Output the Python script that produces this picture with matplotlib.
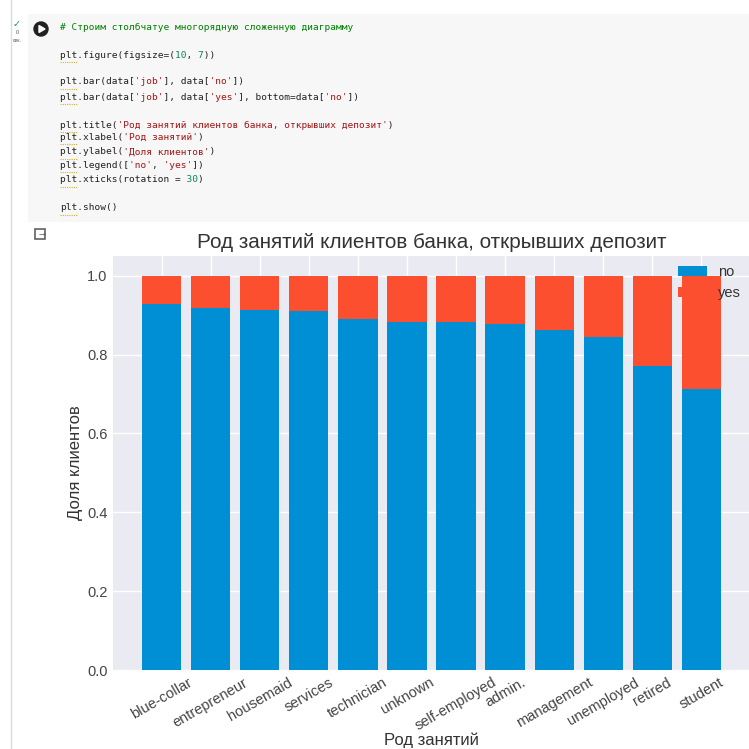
import matplotlib.pyplot as plt
from matplotlib.patches import Rectangle, Circle, Polygon

plt.rcParams['font.family'] = ['Liberation Sans', 'DejaVu Sans']

# доли клиентов по роду занятий
jobs = ['blue-collar', 'entrepreneur', 'housemaid', 'services', 'technician',
        'unknown', 'self-employed', 'admin.', 'management', 'unemployed',
        'retired', 'student']
no_share = [0.927, 0.917, 0.912, 0.911, 0.889, 0.882, 0.882, 0.878, 0.862,
            0.845, 0.772, 0.713]
yes_share = [0.073, 0.083, 0.088, 0.089, 0.111, 0.118, 0.118, 0.122, 0.138,
             0.155, 0.228, 0.287]
y_ticks = [0.0, 0.2, 0.4, 0.6, 0.8, 1.0]

W = H = 749.0

def fx(x):
    return x / W

def fy(y):
    return 1 - y / H

fig = plt.figure(figsize=(7.49, 7.49), dpi=100)
fig.patch.set_facecolor('white')

# --- notebook cell decoration ---
fig.add_artist(plt.Line2D([fx(11), fx(11)], [0, 1], color='#dadce0', lw=1))
fig.add_artist(Rectangle((fx(28), fy(222)), fx(749) - fx(28), fy(14) - fy(222),
                         color='#f7f7f7', lw=0))
fig.add_artist(Circle((fx(41), fy(29)), 7 / W, color='#212121'))
fig.add_artist(Polygon([(fx(39), fy(25.5)), (fx(39), fy(32.5)), (fx(45), fy(29))],
                       color='white'))
fig.text(fx(17), fy(24), '✓', color='#0f9d58', fontsize=7, ha='center', va='center',
         family='DejaVu Sans')
fig.text(fx(17), fy(33), '0', color='#555555', fontsize=4, ha='center', va='center')
fig.text(fx(17), fy(41), 'сек.', color='#555555', fontsize=3.5, ha='center', va='center')
fig.add_artist(Rectangle((fx(35), fy(239)), 10 / W, 10 / H, fill=False,
                         ec='#616161', lw=1.2))
fig.text(fx(42), fy(234), '→', color='#616161', fontsize=6, ha='center', va='center',
         family='DejaVu Sans')

# код в ячейке: (y строки, список (текст, цвет))
K, S, N, C = '#212121', '#a31515', '#098658', '#008000'
code_lines = [
    (27, [('# Строим столбчатуе многорядную сложенную диаграмму', C)]),
    (55, [('plt.figure(figsize=(', K), ('10', N), (', ', K), ('7', N), ('))', K)]),
    (82, [('plt.bar(data[', K), ("'job'", S), ('], data[', K), ("'no'", S), ('])', K)]),
    (97, [('plt.bar(data[', K), ("'job'", S), ('], data[', K), ("'yes'", S),
          ('], bottom=data[', K), ("'no'", S), ('])', K)]),
    (125, [('plt.title(', K), ("'Род занятий клиентов банка, открывших депозит'", S), (')', K)]),
    (137, [('plt.xlabel(', K), ("'Род занятий'", S), (')', K)]),
    (152, [('plt.ylabel(', K), ("'Доля клиентов'", S), (')', K)]),
    (165, [('plt.legend([', K), ("'no'", S), (', ', K), ("'yes'", S), ('])', K)]),
    (180, [('plt.xticks(rotation = ', K), ('30', N), (')', K)]),
    (208, [('plt.show()', K)]),
]
fs_code = 6.8
for y, parts in code_lines:
    # monospace: one layer per colour, other characters blanked with spaces
    for col in (K, S, N, C):
        layer = ''.join(t if c == col else ' ' * len(t) for t, c in parts)
        if layer.strip():
            fig.text(fx(60), fy(y), layer, color=col, fontsize=fs_code,
                     family='DejaVu Sans Mono', ha='left', va='center')
    if parts[0][0].startswith('plt'):
        fig.add_artist(plt.Line2D([fx(60), fx(77)], [fy(y + 6.5), fy(y + 6.5)],
                                  color='#e0b020', lw=0.8, ls=(0, (1, 1))))

# --- the chart ---
ax = fig.add_axes([fx(113), fy(670), fx(750) - fx(113), fy(256) - fy(670)])
ax.set_facecolor('#eaeaf2')
ax.bar(jobs, no_share, color='#008fd5', zorder=2)
ax.bar(jobs, yes_share, bottom=no_share, color='#fc4f30', zorder=2)
ax.grid(True, color='white', lw=1, zorder=0)
ax.set_axisbelow(True)
for s in ax.spines.values():
    s.set_visible(False)
ax.tick_params(length=0, labelsize=10.5, colors='#444444', pad=4)
ax.set_yticks(y_ticks)
ax.set_ylim(0, 1.05)
plt.setp(ax.get_xticklabels(), rotation=30, ha='center')
ax.set_title('Род занятий клиентов банка, открывших депозит', fontsize=14.9,
             color='#333333', pad=6)
ax.set_xlabel('Род занятий', fontsize=12, color='#333333', labelpad=-1)
ax.set_ylabel('Доля клиентов', fontsize=12, color='#333333', labelpad=3)
ax.legend(['no', 'yes'], loc='upper right', frameon=False, fontsize=10.5,
          borderaxespad=0.2, handlelength=2.0, labelcolor='#333333')

fig.savefig('out.png', dpi=100)
